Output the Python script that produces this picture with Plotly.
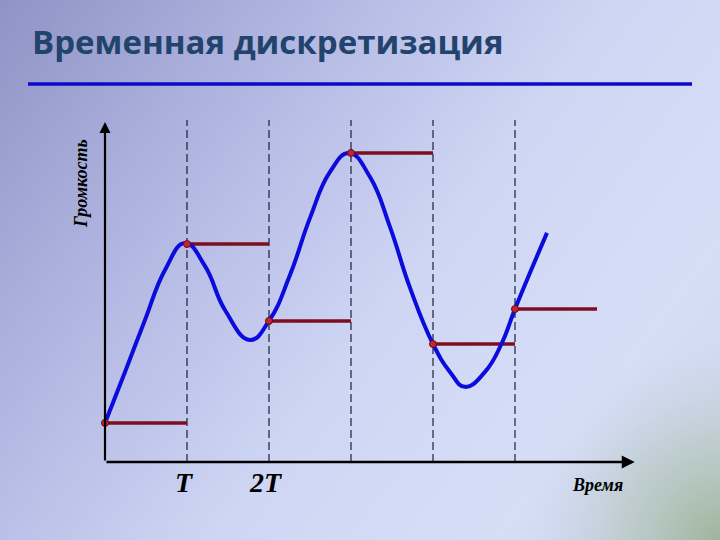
import base64
import plotly.graph_objects as go

# ---------------- data ----------------
sample_times = [0, 1, 2, 3, 4, 5]
sample_values = [11.5, 64.1, 41.5, 90.9, 34.7, 45.0]

curve_t = [0.0, 0.244, 0.488, 0.732, 0.976, 1.22, 1.463, 1.768,
           2.0, 2.256, 2.5, 2.744, 2.976, 3.232, 3.476, 3.72, 4.0, 4.207,
           4.39, 4.634, 4.84, 5.0, 5.39]
curve_v = [11.5, 26.5, 41.8, 56.5, 64.4, 57.6, 44.7, 35.9,
           41.5, 55.0, 71.8, 85.3, 90.9, 83.8, 69.1, 51.2, 34.7, 26.5,
           22.1, 26.5, 35.0, 45.0, 67.4]

tick_positions = [1, 2]
tick_labels = ["T", "2T"]

title_text = "Временная дискретизация"
x_label = "Время"
y_label = "Громкость"

period = 1
x_axis_end = 6.46
y_axis_end = 100
dash_top = 100.6

# ---------------- background (gradient) ----------------
svg = """<svg xmlns='http://www.w3.org/2000/svg' width='720' height='540' viewBox='0 0 720 540' preserveAspectRatio='none'>
<defs>
<linearGradient id='g' x1='0' y1='0' x2='720' y2='540' gradientUnits='userSpaceOnUse'>
<stop offset='0' stop-color='#8f93c6'/>
<stop offset='0.30' stop-color='#b4b9e3'/>
<stop offset='0.55' stop-color='#ced6f4'/>
<stop offset='0.80' stop-color='#d6def6'/>
<stop offset='1' stop-color='#c8d4e8'/>
</linearGradient>
<radialGradient id='r' cx='720' cy='540' r='200' gradientUnits='userSpaceOnUse'>
<stop offset='0' stop-color='#9fb59a' stop-opacity='1'/>
<stop offset='0.5' stop-color='#b3c4b8' stop-opacity='0.55'/>
<stop offset='1' stop-color='#c8d4e8' stop-opacity='0'/>
</radialGradient>
</defs>
<rect width='720' height='540' fill='url(#g)'/>
<rect width='720' height='540' fill='url(#r)'/>
</svg>"""
bg_src = "data:image/svg+xml;base64," + base64.b64encode(svg.encode("utf-8")).decode("ascii")

# pixel mapping: t -> 105 + 82*t ; v -> 462 - 3.4*v
x_range = [-105 / 82, (720 - 105) / 82]
y_range = [(462 - 540) / 3.4, 462 / 3.4]

fig = go.Figure()

# hold segments
hx, hy = [], []
for t, v in zip(sample_times, sample_values):
    hx += [t, t + period, None]
    hy += [v, v, None]
fig.add_trace(go.Scatter(x=hx, y=hy, mode="lines",
                         line=dict(color="#7c0e20", width=3.5),
                         hoverinfo="skip", showlegend=False))

# continuous signal
fig.add_trace(go.Scatter(x=curve_t, y=curve_v, mode="lines",
                         line=dict(color="#0b0bdc", width=4, shape="spline", smoothing=1.3),
                         hoverinfo="skip", showlegend=False))

# sample points
fig.add_trace(go.Scatter(x=sample_times, y=sample_values, mode="markers",
                         marker=dict(size=7, color="#c2262e", line=dict(color="#6a0a14", width=1)),
                         hoverinfo="skip", showlegend=False))

shapes = []
for t in sample_times[1:]:
    shapes.append(dict(type="line", xref="x", yref="y", x0=t, x1=t, y0=0, y1=dash_top,
                       line=dict(color="#0a1030", width=1.1, dash="8px,4px"), layer="below"))
# title underline
shapes.append(dict(type="line", xref="paper", yref="paper", x0=28 / 720, x1=692 / 720,
                   y0=1 - 84 / 540, y1=1 - 84 / 540,
                   line=dict(color="#0a0ac8", width=3.5)))

annotations = []
# axes with arrows
annotations.append(dict(x=x_axis_end, y=0, ax=0, ay=0, xref="x", yref="y", axref="x", ayref="y",
                        showarrow=True, arrowhead=2, arrowsize=1, arrowwidth=2.6,
                        arrowcolor="#000000", text=""))
annotations.append(dict(x=0, y=y_axis_end, ax=0, ay=0, xref="x", yref="y", axref="x", ayref="y",
                        showarrow=True, arrowhead=2, arrowsize=1, arrowwidth=2.2,
                        arrowcolor="#000000", text=""))
# tick labels
for tp, tl in zip(tick_positions, tick_labels):
    annotations.append(dict(x=tp, y=0, xref="x", yref="y", text="<b><i>" + tl + "</i></b>",
                            showarrow=False, xshift=-3, yshift=-20,
                            xanchor="center", yanchor="middle",
                            font=dict(family="Liberation Serif", size=28, color="#000000")))
# axis labels
annotations.append(dict(x=597 / 720, y=1 - 485 / 540, xref="paper", yref="paper",
                        xanchor="center", yanchor="middle",
                        text="<b><i>" + x_label + "</i></b>", showarrow=False,
                        font=dict(family="Liberation Serif", size=18, color="#000000")))
annotations.append(dict(x=81 / 720, y=1 - 184 / 540, xref="paper", yref="paper",
                        xanchor="center", yanchor="middle",
                        text="<b><i>" + y_label + "</i></b>", showarrow=False, textangle=-90,
                        font=dict(family="Liberation Serif", size=18, color="#000000")))
# title
annotations.append(dict(x=30 / 720, y=1 - 42 / 540, xref="paper", yref="paper",
                        xanchor="left", yanchor="middle",
                        text="<b>" + title_text + "</b>", showarrow=False,
                        font=dict(family="Open Sans", size=33, color="#22436b")))

fig.update_layout(
    width=720, height=540,
    margin=dict(l=0, r=0, t=0, b=0),
    paper_bgcolor="#c8cff0", plot_bgcolor="rgba(0,0,0,0)",
    xaxis=dict(range=x_range, visible=False, fixedrange=True),
    yaxis=dict(range=y_range, visible=False, fixedrange=True),
    shapes=shapes, annotations=annotations,
    images=[dict(source=bg_src, xref="paper", yref="paper", x=0, y=1, sizex=1, sizey=1,
                 xanchor="left", yanchor="top", sizing="stretch", layer="below")],
    showlegend=False,
)

fig.write_html("out.html", config={"displayModeBar": False},
               post_script="document.body.style.margin='0';document.body.style.overflow='hidden';")
